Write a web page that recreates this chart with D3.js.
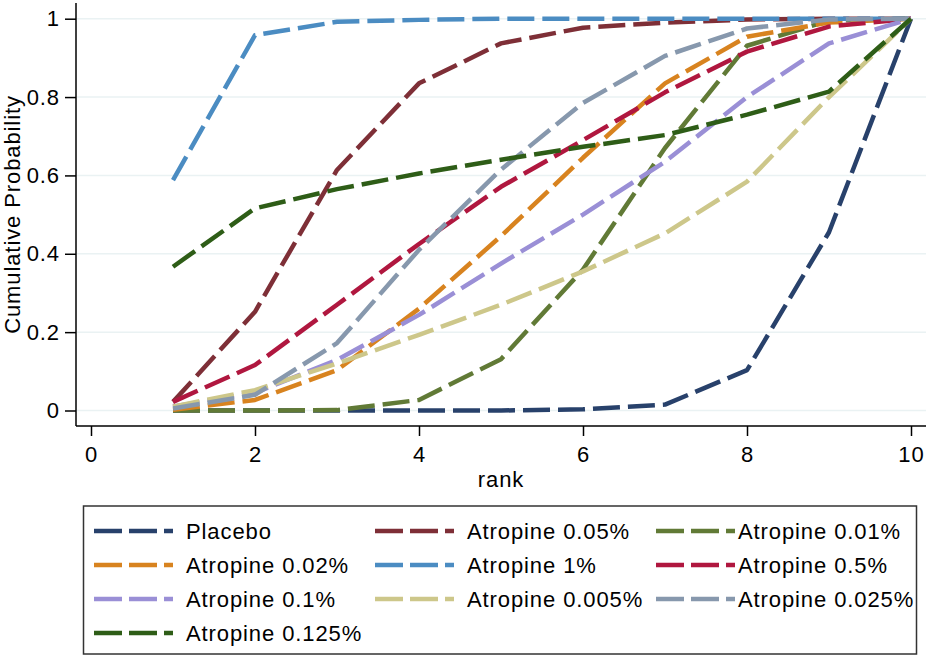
<!DOCTYPE html>
<html><head><meta charset="utf-8">
<script src="https://cdn.jsdelivr.net/npm/d3@7"></script>
<style>
html,body{margin:0;padding:0;background:#fff;}
text{font-family:Arial,"Liberation Sans",sans-serif;fill:#000;letter-spacing:0.9px;}
</style></head>
<body>
<svg id="chart" width="931" height="659"></svg>
<script>
const ranks = [1,2,3,4,5,6,7,8,9,10];
const xTicks = [0,2,4,6,8,10];
const yTicks = [0,0.2,0.4,0.6,0.8,1];
const yTickLabels = ["0","0.2","0.4","0.6","0.8","1"];

const seriesNames = ["Placebo","Atropine 0.05%","Atropine 0.01%","Atropine 0.02%","Atropine 1%","Atropine 0.5%","Atropine 0.1%","Atropine 0.005%","Atropine 0.025%","Atropine 0.125%"];
const seriesColors = ["#28416b","#7e2f37","#617a36","#d8831f","#4b8cc2","#b0173f","#9a8fd6","#cdc78a","#8798ad","#2e5d17"];

const placebo   = [0,0,0,0,0,0.003,0.015,0.103,0.455,1];
const atr005    = [0.022,0.252,0.614,0.835,0.937,0.977,0.99,0.998,1,1];
const atr001    = [0,0,0.001,0.027,0.131,0.36,0.67,0.931,0.995,1];
const atr002    = [0.002,0.027,0.103,0.26,0.445,0.645,0.835,0.954,0.99,1];
const atr1      = [0.588,0.958,0.992,0.997,1,1,1,1,1,1];
const atr05     = [0.022,0.116,0.27,0.425,0.571,0.69,0.812,0.916,0.98,1];
const atr01     = [0.01,0.045,0.129,0.244,0.375,0.5,0.635,0.80,0.937,1];
const atr0005   = [0.01,0.052,0.12,0.193,0.27,0.355,0.452,0.584,0.80,1];
const atr0025   = [0.005,0.04,0.172,0.41,0.615,0.785,0.905,0.975,0.998,1];
const atr0125   = [0.367,0.516,0.565,0.605,0.64,0.673,0.703,0.755,0.814,1];

const seriesValues = [placebo,atr005,atr001,atr002,atr1,atr05,atr01,atr0005,atr0025,atr0125];

const svg = d3.select("#chart");
const x = d3.scaleLinear().domain([0,10]).range([91,911]);
const y = d3.scaleLinear().domain([0,1]).range([410.5,18.7]);
const plotLeft = 76, plotRight = 926, plotTop = 3, plotBottom = 426;
const FS = 22;

// gridlines
svg.append("g").selectAll("line").data(yTicks).join("line")
  .attr("x1",plotLeft+1).attr("x2",plotRight)
  .attr("y1",d=>y(d)).attr("y2",d=>y(d))
  .attr("stroke","#eaf2f3").attr("stroke-width",1.5);

// y axis
const yAxis = d3.axisLeft(y).tickValues(yTicks).tickSize(11).tickPadding(5)
  .tickFormat((d,i)=>yTickLabels[i]);
const gy = svg.append("g").attr("transform",`translate(${plotLeft},0)`).call(yAxis);
gy.select(".domain").attr("d",`M0,${plotTop}V${plotBottom}`).attr("stroke","#000").attr("stroke-width",1.5);
gy.selectAll(".tick line").attr("stroke","#000").attr("stroke-width",1.5);
gy.selectAll(".tick text").attr("font-size",FS).attr("font-family","Arial, 'Liberation Sans', sans-serif").attr("fill","#000");

// x axis
const xAxis = d3.axisBottom(x).tickValues(xTicks).tickSize(10).tickPadding(10);
const gx = svg.append("g").attr("transform",`translate(0,${plotBottom})`).call(xAxis);
gx.select(".domain").attr("d",`M${plotLeft},0H${plotRight}`).attr("stroke","#000").attr("stroke-width",1.5);
gx.selectAll(".tick line").attr("stroke","#000").attr("stroke-width",1.5);
gx.selectAll(".tick text").attr("font-size",FS).attr("font-family","Arial, 'Liberation Sans', sans-serif").attr("fill","#000");

// axis titles
svg.append("text").attr("x",(plotLeft+plotRight)/2).attr("y",487)
  .attr("text-anchor","middle").attr("font-size",FS).text("rank");
svg.append("text").attr("transform",`translate(20,${(plotTop+plotBottom)/2}) rotate(-90)`)
  .attr("text-anchor","middle").attr("font-size",FS).text("Cumulative Probability");

// lines
const line = d3.line().x((d,i)=>x(ranks[i])).y(d=>y(d));
svg.append("g").selectAll("path").data(seriesValues).join("path")
  .attr("d",d=>line(d))
  .attr("fill","none")
  .attr("stroke",(d,i)=>seriesColors[i])
  .attr("stroke-width",4.5)
  .attr("stroke-dasharray","27 8")
  .attr("stroke-linejoin","round");

// legend
const lg = svg.append("g");
lg.append("rect").attr("x",83.5).attr("y",506).attr("width",833).attr("height",148)
  .attr("fill","#fff").attr("stroke","#333").attr("stroke-width",1.5);
const colX = [94,375,656];
const colTextX = [186,467,738];
const rowY = [531,565,599,633];
seriesNames.forEach((name,i)=>{
  const c = i%3, cy = rowY[Math.floor(i/3)], cx = colX[c];
  lg.append("line").attr("x1",cx).attr("x2",cx+79).attr("y1",cy).attr("y2",cy)
    .attr("stroke",seriesColors[i]).attr("stroke-width",4.5).attr("stroke-dasharray","28 7");
  lg.append("text").attr("x",colTextX[c]).attr("y",cy).attr("dy","0.35em")
    .attr("font-size",FS).text(name);
});
</script>
</body></html>
